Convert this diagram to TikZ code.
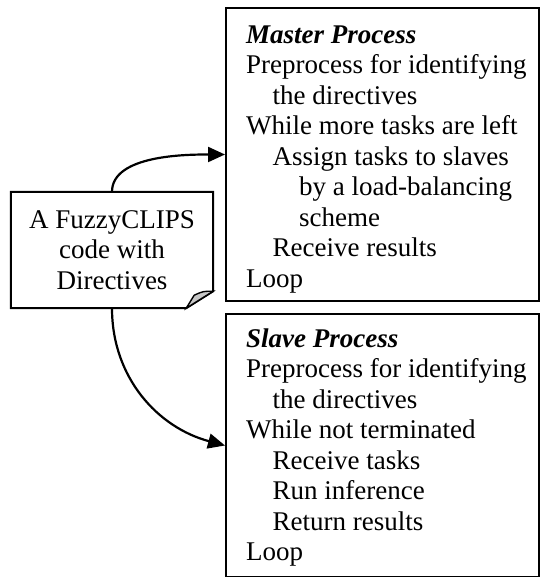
\documentclass[tikz,border=0pt]{standalone}
\usepackage{fontspec}
\setmainfont{Liberation Serif}
\usetikzlibrary{arrows.meta}

\tikzset{
  textfont/.style={font=\fontsize{27}{30.5}\selectfont},
  procbox/.style={draw=black, line width=2pt, rectangle, inner sep=0pt, anchor=north west},
  listing/.style={textfont, align=left, inner sep=0pt, anchor=north west},
  docbox/.style={textfont, align=center, inner sep=0pt, rectangle,
                 minimum width=202pt, minimum height=116pt},
  outline/.style={draw=black, line width=2pt, line join=miter},
  link/.style={draw=black, line width=2.2pt,
               -{Triangle[length=17pt,width=15pt]}},
}
\newcommand{\ind}{\hspace*{26.5pt}}

\begin{document}
\begin{tikzpicture}[x=1pt,y=1pt]
  \useasboundingbox (0,0) rectangle (539,-577);

  % process boxes
  \node[procbox, minimum width=313pt, minimum height=293pt] (master) at (225,-7) {};
  \node[procbox, minimum width=313pt, minimum height=263pt] (slave) at (225,-313) {};

  % their listings
  \node[listing] (mastertext) at (246,-23) {%
    \rule{0pt}{20pt}\textbf{\textit{Master Process}}\\
    Preprocess for identifying\\
    \ind the directives\\
    While more tasks are left\\
    \ind Assign tasks to slaves\\
    \ind\ind by a load-balancing\\
    \ind\ind scheme\\
    \ind Receive results\\
    Loop};
  \node[listing] (slavetext) at (246,-327) {%
    \rule{0pt}{20pt}\textbf{\textit{Slave Process}}\\
    Preprocess for identifying\\
    \ind the directives\\
    While not terminated\\
    \ind Receive tasks\\
    \ind Run inference\\
    \ind Return results\\
    Loop};

  % source document with a folded corner
  \node[docbox] (doc) at (112,-250) {A FuzzyCLIPS\\code with\\Directives};
  \path[outline] (doc.north west) -- (doc.north east)
    -- ([shift={(0,17)}]doc.south east)
    -- ([shift={(-27,0)}]doc.south east)
    -- (doc.south west) -- cycle;
  \path[outline, line width=1.4pt, fill=black!22] ([shift={(-27,0)}]doc.south east)
    -- ([shift={(-19,13)}]doc.south east)
    .. controls ([shift={(-10,17)}]doc.south east) .. ([shift={(0,17)}]doc.south east)
    -- cycle;

  % connectors
  \draw[link] (doc.north) to[out=90, in=180, looseness=0.8] (master.west);
  \draw[link] (doc.south) to[out=-90, in=165] (slave.west);
\end{tikzpicture}
\end{document}
